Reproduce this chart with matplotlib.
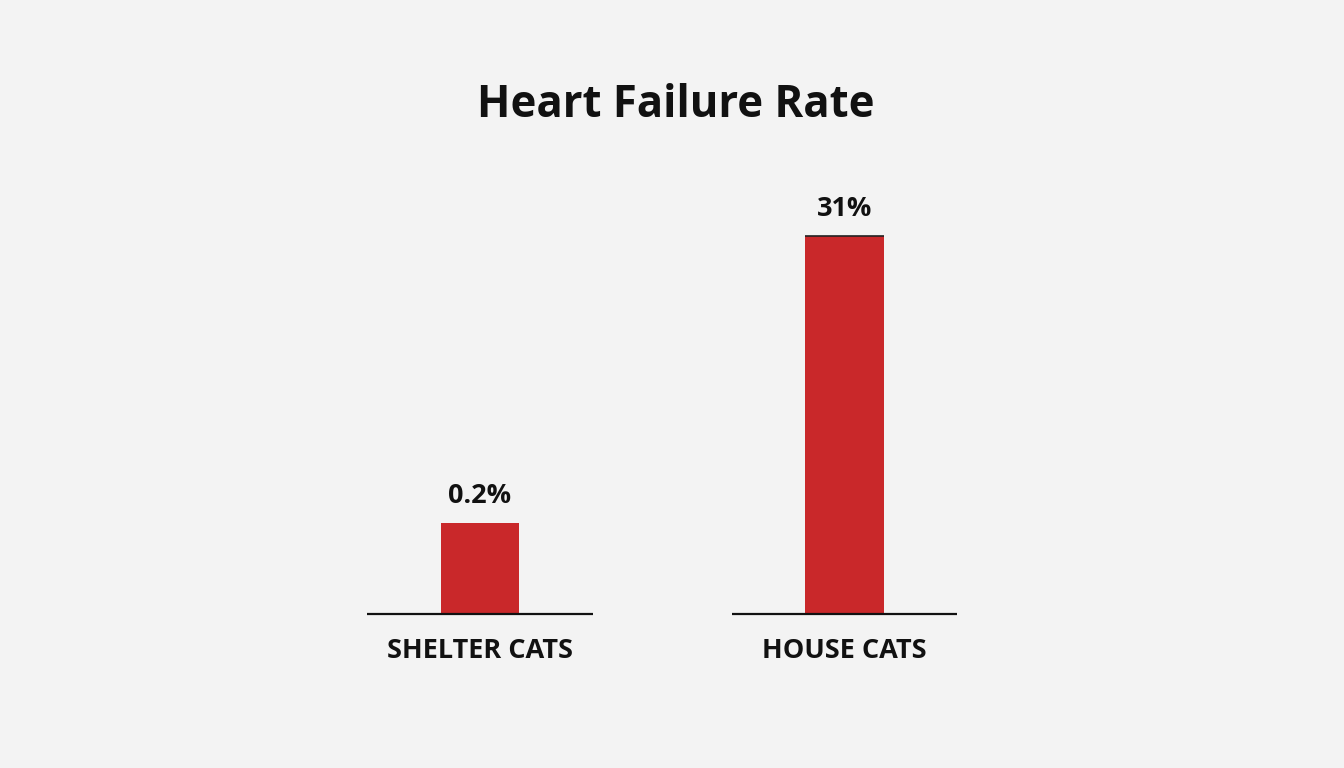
import numpy as np
import matplotlib.pyplot as plt

categories = ['SHELTER CATS', 'HOUSE CATS']
rates = [0.2, 31]
rate_labels = ['0.2%', '31%']

plt.rcParams['font.family'] = ['Open Sans', 'DejaVu Sans']

W, H = 1344, 768
fig = plt.figure(figsize=(W / 100, H / 100), dpi=100)
fig.patch.set_facecolor('#f3f3f3')

# axes over whole width, bottom at the baseline; log scale keeps both bars readable
base = 0.0404
px_per_ln = 56.9
ax_h = 480
ax = fig.add_axes([0, 154 / H, 1, ax_h / H])
ax.set_yscale('log')
ax.set_ylim(base, base * np.exp(ax_h / px_per_ln))
step = 364.5
ax.set_xlim(-480 / step, (W - 480) / step)
ax.axis('off')

x = np.arange(len(categories))
bars = ax.bar(x, rates, width=0.215, color='#c9282a', zorder=2)

for i, (r, lab, cat) in enumerate(zip(rates, rate_labels, categories)):
    ax.hlines(base, i - 0.309, i + 0.309, color='#111111', lw=1.6, clip_on=False, zorder=3)
    ax.annotate(lab, (i, r), xytext=(0, 14.5), textcoords='offset points',
                ha='center', va='baseline', fontsize=19.5, fontweight='bold', color='#111111')
    ax.annotate(cat, (i, base), xytext=(0, -31.5), textcoords='offset points',
                ha='center', va='baseline', fontsize=19.5, fontweight='bold', color='#111111',
                annotation_clip=False)

# thin dark edge on top of the tallest bar
top = int(np.argmax(rates))
ax.hlines(rates[top], top - 0.1075, top + 0.1075, color='#222222', lw=1.2, zorder=3)

fig.text(676 / W, (H - 117) / H, 'Heart Failure Rate', ha='center', va='baseline',
         fontsize=31.5, fontweight='bold', color='#111111')

fig.savefig('out.png', dpi=100, facecolor=fig.get_facecolor())
